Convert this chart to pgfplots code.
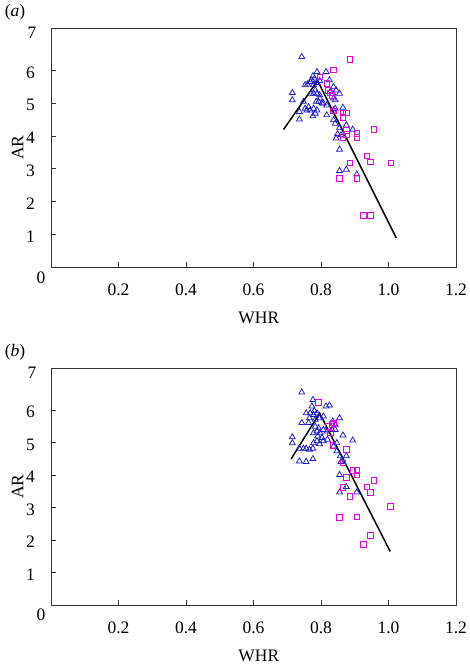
\documentclass[border=0pt]{standalone}
\usepackage{pgfplots}
\pgfplotsset{compat=1.18}
\usepackage{fontspec}
\setmainfont{Liberation Serif}
\definecolor{triblue}{RGB}{25,25,205}
\definecolor{sqmag}{RGB}{230,0,230}

\pgfplotstableread{
x y
0.743 6.42
0.788 5.96
0.815 5.96
0.776 5.83
0.781 5.76
0.768 5.66
0.773 5.71
0.760 5.58
0.753 5.56
0.778 5.56
0.788 5.63
0.796 5.69
0.825 5.71
0.837 5.50
0.845 5.40
0.855 5.30
0.835 5.30
0.827 5.35
0.715 5.32
0.715 5.10
0.783 5.40
0.788 5.30
0.796 5.25
0.778 5.30
0.770 5.30
0.797 5.15
0.786 5.05
0.803 5.00
0.793 5.05
0.807 5.00
0.817 4.94
0.837 5.15
0.842 5.10
0.748 5.05
0.753 4.84
0.763 4.89
0.768 4.79
0.758 4.79
0.778 4.84
0.788 4.79
0.783 4.69
0.776 4.61
0.736 4.74
0.736 4.51
0.817 4.64
0.837 4.79
0.842 4.84
0.865 4.87
0.837 4.49
0.842 4.38
0.855 4.26
0.849 4.06
0.845 3.93
0.859 4.03
0.875 4.33
0.894 4.20
0.855 3.59
0.855 2.94
0.875 2.98
0.906 2.83
}\triA

\pgfplotstableread{
x y
0.886 6.35
0.837 6.02
0.796 5.81
0.817 5.61
0.822 5.40
0.827 5.32
0.832 5.25
0.837 4.77
0.865 4.71
0.875 4.71
0.865 4.57
0.875 4.18
0.875 4.06
0.865 3.96
0.906 4.08
0.906 3.96
0.956 4.20
0.936 3.39
0.946 3.21
0.886 3.18
1.007 3.18
0.855 2.70
0.906 2.70
0.926 1.58
0.946 1.58
}\sqA

\pgfplotstableread{
x y
0.743 6.55
0.776 6.32
0.815 6.12
0.825 6.15
0.773 6.12
0.780 5.98
0.788 5.91
0.768 5.91
0.756 5.91
0.778 5.86
0.766 5.76
0.743 5.61
0.763 5.61
0.783 5.71
0.796 5.76
0.807 5.81
0.855 5.76
0.835 5.66
0.842 5.56
0.715 5.17
0.715 4.99
0.783 5.50
0.793 5.45
0.788 5.35
0.797 5.30
0.807 5.40
0.817 5.35
0.832 5.40
0.842 5.40
0.778 5.30
0.790 5.20
0.803 5.15
0.788 5.05
0.778 4.99
0.796 4.96
0.807 5.05
0.819 5.10
0.865 5.23
0.894 5.07
0.847 4.99
0.837 4.89
0.847 4.74
0.736 4.82
0.748 4.82
0.756 4.82
0.766 4.79
0.776 4.82
0.736 4.43
0.756 4.41
0.776 4.50
0.857 4.59
0.875 4.59
0.859 4.41
0.865 4.43
0.855 4.01
0.875 3.64
0.855 3.47
0.906 3.47
}\triB

\pgfplotstableread{
x y
0.793 6.25
0.837 5.61
0.832 5.56
0.822 5.50
0.827 5.30
0.835 4.92
0.875 4.79
0.865 4.38
0.894 4.15
0.906 4.15
0.906 4.01
0.875 3.94
0.956 3.84
0.936 3.64
0.946 3.47
0.865 3.62
0.886 3.34
1.005 3.03
0.855 2.70
0.906 2.72
0.946 2.14
0.926 1.86
}\sqB

\pgfplotsset{
  panel/.style={
    scale only axis,
    width=405bp,
    xmin=0, xmax=1.2,
    ymin=0, ymax=7.3,
    axis line style={black!80, line width=0.8bp},
    tick style={black!80, line width=0.8bp},
    tick align=inside,
    major tick length=5bp,
    xtick pos=lower,
    ytick pos=left,
    xtick={0.2,0.4,0.6,0.8,1.0,1.2},
    xticklabels={0.2,0.4,0.6,0.8,1.0,1.2},
    ytick={1,2,3,4,5,6},
    yticklabels={1,2,3,4,5,6},
    xticklabel style={yshift=-11bp},
    yticklabel style={xshift=-10bp, yshift=-2bp},
    xlabel={WHR},
    ylabel={AR},
    xlabel style={at={(axis description cs:0.513,0)}, anchor=center, yshift=-51bp},
    ylabel style={at={(axis description cs:-0.0827,0.5)}, anchor=center},
    clip=false,
  },
  tri/.style={only marks, mark=triangle, mark size=3.4bp, color=triblue, mark options={line width=0.75bp}},
  sq/.style={only marks, mark=square, mark size=2.8bp, color=sqmag, mark options={line width=0.7bp}},
}

\begin{document}
\fontsize{17.5bp}{20bp}\selectfont
\begin{tikzpicture}
\useasboundingbox (0,0) rectangle (470bp,-668bp);
\begin{axis}[panel, height=239bp, at={(51bp,-28bp)}, anchor=north west]
\addplot[tri] table {\triA};
\addplot[sq] table {\sqA};
\addplot[black, line width=1.5bp, no marks] coordinates {(0.689,4.20) (0.790,5.69) (1.023,0.89)};
\node at (rel axis cs:0,0) [xshift=-10bp, yshift=-11bp] {0};
\node at (rel axis cs:0,1) [xshift=-19bp, yshift=-5bp] {7};
\node at (rel axis cs:0,1) [xshift=-36bp, yshift=16bp] {(\textit{a})};
\end{axis}
\begin{axis}[panel, height=237bp, at={(51bp,-368bp)}, anchor=north west]
\addplot[tri] table {\triB};
\addplot[sq] table {\sqB};
\addplot[black, line width=1.5bp, no marks] coordinates {(0.7115,4.50) (0.796,5.91) (1.005,1.65)};
\node at (rel axis cs:0,0) [xshift=-10bp, yshift=-10bp] {0};
\node at (rel axis cs:0,1) [xshift=-19bp, yshift=-5bp] {7};
\node at (rel axis cs:0,1) [xshift=-36bp, yshift=16bp] {(\textit{b})};
\end{axis}
\end{tikzpicture}
\end{document}
